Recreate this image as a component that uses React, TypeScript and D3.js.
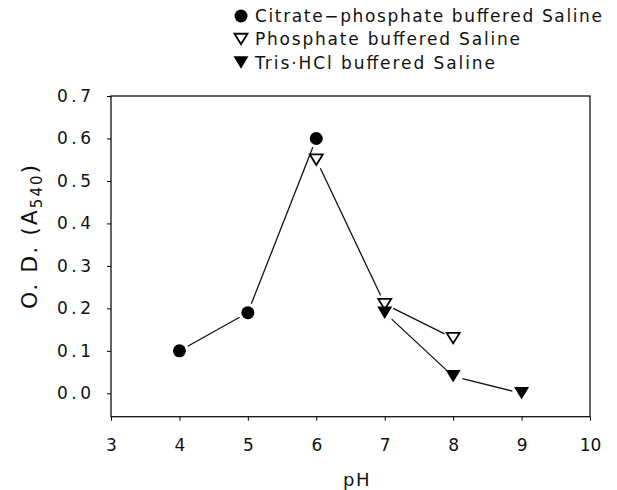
import React, { useEffect, useRef } from 'react';
import * as d3 from 'd3';

// readings
const citratePH = [4, 5, 6];
const citrateOD = [0.1, 0.19, 0.6];
const phosphatePH = [6, 7, 8];
const phosphateOD = [0.55, 0.21, 0.13];
const trisPH = [7, 8, 9];
const trisOD = [0.19, 0.04, 0.0];

const xTicks = [3, 4, 5, 6, 7, 8, 9, 10];
const yTicks = [0, 0.1, 0.2, 0.3, 0.4, 0.5, 0.6, 0.7];

const legendLabels = [
  'Citrate\u2212phosphate buffered Saline',
  'Phosphate buffered Saline',
  'Tris\u00b7HCl buffered Saline',
];
const legendKinds = ['circle', 'open', 'filled'];

const W = 617;
const H = 490;
const left = 111, right = 590, top = 96, bottom = 416.7;
const FONT = "'DejaVu Sans', sans-serif";

function tri(cx: number, cy: number, w: number, h: number) {
  return `M${cx - w / 2},${cy - h / 2}L${cx + w / 2},${cy - h / 2}L${cx},${cy + h / 2}Z`;
}

export default function App() {
  const ref = useRef<SVGSVGElement>(null);

  useEffect(() => {
    const svg = d3.select(ref.current);
    svg.selectAll('*').remove();

    const x = d3.scaleLinear().domain([3, 10]).range([left, right]);
    const y = d3.scaleLinear().domain([-0.055, 0.7]).range([bottom, top]);

    // frame
    svg.append('rect')
      .attr('x', left).attr('y', top)
      .attr('width', right - left).attr('height', bottom - top)
      .attr('fill', 'none').attr('stroke', '#111').attr('stroke-width', 1.3);

    const xAxis = d3.axisBottom(x).tickValues(xTicks).tickSize(4).tickSizeOuter(0)
      .tickPadding(18).tickFormat(d3.format('d'));
    const gx = svg.append('g').attr('transform', `translate(0,${bottom})`).call(xAxis);
    gx.select('.domain').remove();
    gx.selectAll('text').attr('font-family', FONT).attr('font-size', 17).attr('fill', '#111');

    const yAxis = d3.axisLeft(y).tickValues(yTicks).tickSize(4).tickSizeOuter(0)
      .tickPadding(16).tickFormat(d3.format('.1f'));
    const gy = svg.append('g').attr('transform', `translate(${left},0)`).call(yAxis);
    gy.select('.domain').remove();
    gy.selectAll('text').attr('font-family', FONT).attr('font-size', 17).attr('fill', '#111')
      .attr('textLength', 34).attr('lengthAdjust', 'spacing');

    // axis titles
    svg.append('text')
      .attr('x', 357).attr('y', 486)
      .attr('text-anchor', 'middle')
      .attr('font-family', FONT).attr('font-size', 18).attr('fill', '#111')
      .attr('letter-spacing', 1.5)
      .text('pH');

    const yl = svg.append('text')
      .attr('transform', 'translate(37,236) rotate(-90)')
      .attr('text-anchor', 'middle')
      .attr('font-family', FONT).attr('font-size', 22).attr('fill', '#111')
      .attr('letter-spacing', 2);
    yl.append('tspan').text('O. D. (A');
    yl.append('tspan').attr('font-size', 15).attr('dy', 5).text('540');
    yl.append('tspan').attr('dy', -5).text(')');

    // connecting lines, stopped short of the markers
    const gap = 9.5;
    const series = [
      { px: citratePH, py: citrateOD, kind: 'circle' },
      { px: phosphatePH, py: phosphateOD, kind: 'open' },
      { px: trisPH, py: trisOD, kind: 'filled' },
    ];
    series.forEach(s => {
      const pts = s.px.map((p, i) => [x(p), y(s.py[i])]);
      const segs = d3.pairs(pts).map(([a, b]) => {
        const dx = b[0] - a[0], dy = b[1] - a[1];
        const len = Math.hypot(dx, dy);
        const ux = dx / len, uy = dy / len;
        return [a[0] + ux * gap, a[1] + uy * gap, b[0] - ux * gap, b[1] - uy * gap];
      });
      svg.append('g').selectAll('line').data(segs).join('line')
        .attr('x1', d => d[0]).attr('y1', d => d[1])
        .attr('x2', d => d[2]).attr('y2', d => d[3])
        .attr('stroke', '#111').attr('stroke-width', 1.3);
    });

    const drawMarker = (g: any, kind: string, cx: number, cy: number) => {
      if (kind === 'circle') {
        g.append('circle').attr('cx', cx).attr('cy', cy).attr('r', 6.5).attr('fill', '#000');
      } else if (kind === 'open') {
        g.append('path').attr('d', tri(cx, cy, 13, 10.5))
          .attr('fill', '#fff').attr('stroke', '#000').attr('stroke-width', 1.8);
      } else {
        g.append('path').attr('d', tri(cx, cy, 15, 12.5)).attr('fill', '#000');
      }
    };

    series.forEach(s => {
      const g = svg.append('g');
      s.px.forEach((p, i) => drawMarker(g, s.kind, x(p), y(s.py[i])));
    });

    // legend
    const legendY = [22, 45, 68.5];
    const legendW = [347, 265, 240];
    const lg = svg.append('g');
    legendLabels.forEach((lab, i) => {
      drawMarker(lg, legendKinds[i], 241, legendY[i] - 6);
      lg.append('text')
        .attr('x', 255).attr('y', legendY[i])
        .attr('font-family', FONT).attr('font-size', 17).attr('fill', '#111')
        .attr('textLength', legendW[i]).attr('lengthAdjust', 'spacing')
        .text(lab);
    });
  }, []);

  return (
    <svg ref={ref} width={W} height={H}
      style={{ position: 'absolute', left: 0, top: 0, background: '#fff' }} />
  );
}
